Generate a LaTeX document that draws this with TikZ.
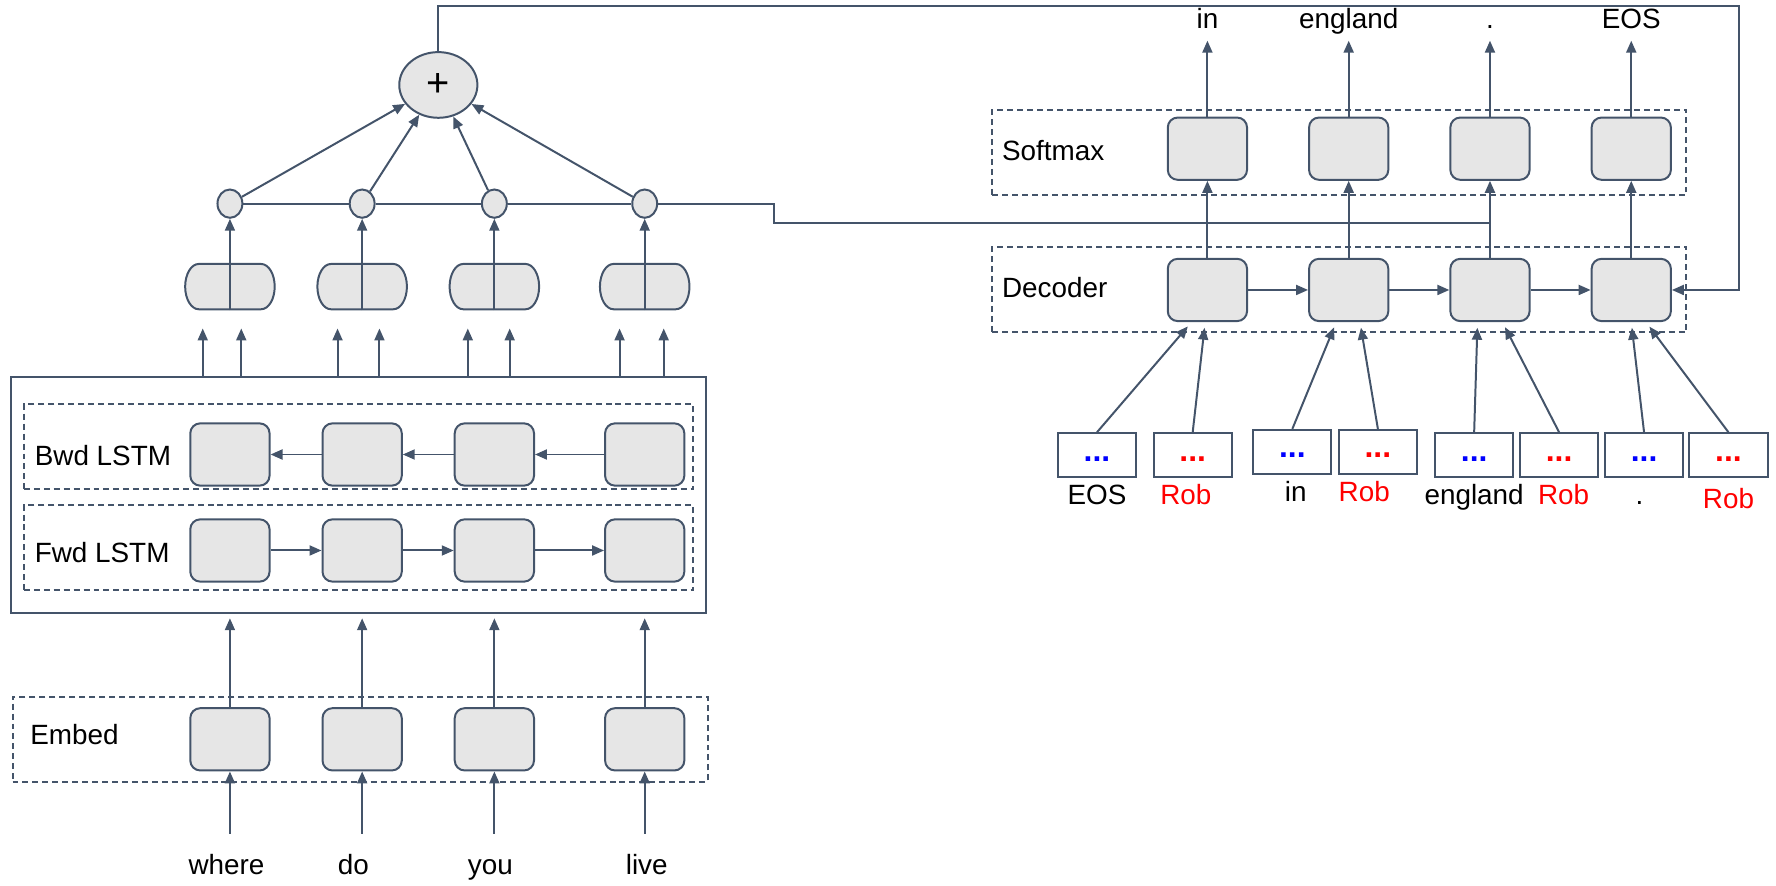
\documentclass[tikz,border=0pt]{standalone}
\usepackage{fontspec}
\setmainfont{Liberation Sans}
\usepackage{xcolor}
\definecolor{ln}{RGB}{68,84,106}
\definecolor{cf}{RGB}{230,230,230}
\definecolor{rb}{RGB}{255,0,0}
\definecolor{bl}{RGB}{0,0,255}
\usetikzlibrary{positioning, shapes, arrows.meta}

\begin{document}
\begin{tikzpicture}[x = 0.02cm, y = -0.02cm, line width = 1pt,
                    arr/.style = {-{Triangle[length=6pt, width=5pt]}},
                    every node/.style = {text=black, font=\fontsize{14}{16}\selectfont},
                    every edge/.style = {draw=ln, arr},
                    cell/.style = {draw=ln, fill=cf, rounded corners=5pt,
                                   minimum width=1.4cm, minimum height=1.1cm},
                    grp/.style = {draw=ln, dash pattern=on 3pt off 2pt, minimum height=1.5cm},
                    capsule/.style = {draw=ln, fill=cf, rounded rectangle, transform shape, xscale=0.6,
                                      minimum width=2.87cm, minimum height=0.8cm},
                    knot/.style = {draw=ln, fill=cf, ellipse, inner sep=0pt,
                                   minimum width=0.44cm, minimum height=0.5cm},
                    inbox/.style = {draw=ln, minimum width=1.38cm, minimum height=0.78cm,
                                    text height=0.6em, text depth=0pt,
                                    font=\fontsize{16}{18}\selectfont\bfseries},
                    word/.style = {text height=0.75em, text depth=0.25em}]
    \useasboundingbox (0,0) rectangle (1568,782);
    % encoder
    \node (lstm) [draw=ln, minimum width=12.26cm, minimum height=4.16cm] at (316.5,437) {};
    \node (bwd)  [grp, minimum width=11.82cm] at (316.5,394.5) {};
    \node (fwd)  [grp, minimum width=11.82cm] at (316.5,483.5) {};
    \node (emb)  [grp, minimum width=12.28cm] at (318,652.5) {};
    \node (lbwd) [word, anchor=west] at (24,407) {Bwd LSTM};
    \node (lfwd) [word, anchor=west] at (24,492) {Fwd LSTM};
    \node (lemb) [word, anchor=west] at (20,653) {Embed};
    \node (f1) [cell] at (203,486) {};
    \node (f2) [cell, right = 0.9cm of f1] {};
    \node (f3) [cell, right = 0.9cm of f2] {};
    \node (f4) [cell, right = 1.22cm of f3] {};
    \foreach \i in {1,...,4} {
        \node (b\i) [cell, above = 0.56cm of f\i] {};
        \node (e\i) [cell, below = 2.2cm of f\i] {};
        \node (c\i) [capsule, above = 1.98cm of b\i] {};
        \node (d\i) [knot, above = 0.78cm of c\i] {};
    }
    \node (sum) [draw=ln, fill=cf, ellipse, minimum width=1.38cm, minimum height=1.16cm,
                 font=\fontsize{20}{22}\selectfont] at (387,75) {+};
    \node (w1) [word] at (200,768) {where};
    \node (w2) [word] at (312,768) {do};
    \node (w3) [word] at (433,768) {you};
    \node (w4) [word] at (571,768) {live};
    \foreach \i in {1,...,4} {
        \draw (e\i |- w\i.north) edge[shorten <=0.33cm] (e\i);
        \draw (e\i) edge[shorten >=0.08cm] (e\i |- lstm.south);
        \draw (c\i.south) edge (d\i);
        \draw (d\i) edge (sum);
    }
    \draw (f1) edge (f2);
    \draw (f2) edge (f3);
    \draw (f3) edge (f4);
    \draw (b4) edge (b3);
    \draw (b3) edge (b2);
    \draw (b2) edge (b1);
    \foreach \x in {179,213,298,335,413,450,547,586}
        \draw (\x,0 |- lstm.north) edge (\x,290);

    % decoder
    \node (smg)  [grp, minimum width=12.26cm] at (1182.5,134.5) {};
    \node (decg) [grp, minimum width=12.26cm] at (1182.5,255.5) {};
    \node (lsm)  [word, anchor=west] at (878,137) {Softmax};
    \node (ldec) [word, anchor=west] at (878,258) {Decoder};
    \node (dec1) [cell] at (1066,256) {};
    \node (dec2) [cell, right = 1.06cm of dec1] {};
    \node (dec3) [cell, right = 1.06cm of dec2] {};
    \node (dec4) [cell, right = 1.06cm of dec3] {};
    \foreach \i/\w in {1/in, 2/england, 3/., 4/EOS} {
        \node (sm\i) [cell, above = 1.36cm of dec\i] {};
        \node (o\i) [word, above = 1.34cm of sm\i] {\w};
        \draw (dec\i) edge (sm\i);
        \draw (sm\i) edge (o\i);
    }
    \draw (dec1) edge (dec2);
    \draw (dec2) edge (dec3);
    \draw (dec3) edge (dec4);
    \foreach \i/\x/\y/\c in {1/968.5/402/bl, 2/1053/402/rb, 3/1141/399/bl, 4/1216.5/399/rb,
                             5/1301.5/402/bl, 6/1376.5/402/rb, 7/1451.5/402/bl, 8/1526/402/rb}
        \node (i\i) [inbox, text=\c] at (\x,\y) {...};
    \node (t1) [word, below = 0.07cm of i1] {EOS};
    \node (t2) [word, text=rb, below = 0.07cm of i2, xshift=-0.12cm] {Rob};
    \node (t3) [word, below = 0.07cm of i3, xshift=0.06cm] {in};
    \node (t4) [word, text=rb, below = 0.07cm of i4, xshift=-0.24cm] {Rob};
    \node (t5) [word, below = 0.07cm of i5] {england};
    \node (t6) [word, text=rb, below = 0.07cm of i6, xshift=0.08cm] {Rob};
    \node (t7) [word, below = 0.07cm of i7, xshift=-0.08cm] {.};
    \node (t8) [word, text=rb, below = 0.13cm of i8] {Rob};
    \foreach \i/\j/\s in {1/1/-0.28, 2/1/-0.04, 3/2/-0.22, 4/2/0.2, 5/3/-0.22, 6/3/0.22, 7/4/0, 8/4/0.26}
        \draw (i\i.north) edge[shorten >=0.1cm] ([xshift=\s cm]dec\j.south);

    % joins
    \coordinate (tr) at (1535,5);
    \coordinate (mg) at (683,197);
    \draw[ln] (d1) -- (d2) (d2) -- (d3) (d3) -- (d4);
    \draw[ln] (d4.east) -| (mg) -- (mg -| dec3);
    \draw[ln, arr] (sum.north) |- (tr) |- (dec4.east);
\end{tikzpicture}
\end{document}
